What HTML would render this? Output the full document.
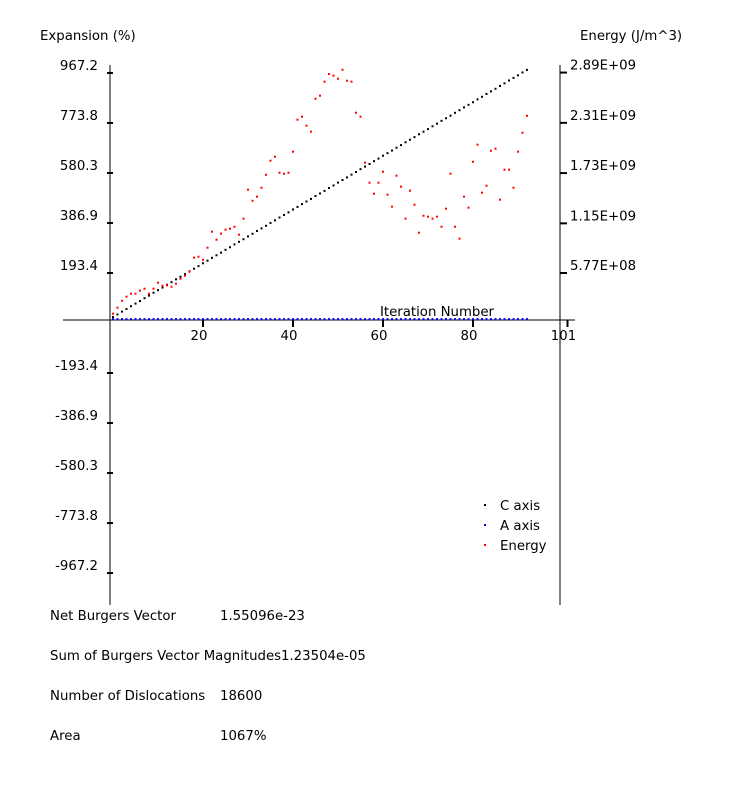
<!DOCTYPE html>
<html><head><meta charset="utf-8"><style>
body{margin:0;background:#fff;}
svg{display:block;font-family:"DejaVu Sans","Liberation Sans",sans-serif;font-size:13.3px;}
</style></head><body>
<svg id="chart" width="750" height="800" viewBox="0 0 750 800" xmlns="http://www.w3.org/2000/svg">
<text x="40" y="40">Expansion (%)</text>
<text x="580" y="40">Energy (J/m^3)</text>
<line x1="110" y1="65" x2="110" y2="605" stroke="#000"/>
<line x1="560" y1="65" x2="560" y2="605" stroke="#000"/>
<line x1="63" y1="320" x2="575" y2="320" stroke="#000"/>
<text x="437" y="316" text-anchor="middle">Iteration Number</text>
<g id="ticks"></g>
<g id="marks"></g>
<g>
<rect x="484" y="504" width="2" height="2" fill="#000"/>
<text x="500" y="510">C axis</text>
<rect x="484" y="524" width="2" height="2" fill="#00f"/>
<text x="500" y="530">A axis</text>
<rect x="484" y="544" width="2" height="2" fill="#f00"/>
<text x="500" y="550">Energy</text>
</g>
<g>
<text x="50" y="620">Net Burgers Vector</text>
<text x="220" y="620">1.55096e-23</text>
<text x="50" y="660">Sum of Burgers Vector Magnitudes</text>
<text x="281" y="660">1.23504e-05</text>
<text x="50" y="700">Number of Dislocations</text>
<text x="220" y="700">18600</text>
<text x="50" y="740">Area</text>
<text x="220" y="740">1067%</text>
</g>
</svg>
<script>
const leftTicks = [967.2, 773.8, 580.3, 386.9, 193.4, -193.4, -386.9, -580.3, -773.8, -967.2];
const leftTickLabels = ["967.2","773.8","580.3","386.9","193.4","-193.4","-386.9","-580.3","-773.8","-967.2"];
const rightTicks = [2.89, 2.31, 1.73, 1.15, 0.577];
const rightTickLabels = ["2.89E+09","2.31E+09","1.73E+09","1.15E+09","5.77E+08"];
const xTicks = [20, 40, 60, 80, 101];
const xTickLabels = ["20","40","60","80","101"];
const cAxis = [23,33,44,54,65,75,85,96,106,117,127,137,148,158,169,179,189,200,210,220,231,241,252,262,272,283,293,304,314,324,335,345,356,366,376,387,397,408,418,428,439,449,460,470,480,491,501,511,522,532,543,553,563,574,584,595,605,615,626,636,647,657,667,678,688,699,709,719,730,740,750,761,771,782,792,802,813,823,834,844,854,865,875,886,896,906,917,927,938,948,958,969,979];
const aAxis = [15,15,15,15,15,15,15,15,15,15,15,15,15,15,15,15,15,15,15,15,15,15,15,15,15,15,15,15,15,15,15,15,15,15,15,15,15,15,15,15,15,15,15,15,15,15,15,15,15,15,15,15,15,15,15,15,15,15,15,15,15,15,15,15,15,15,15,15,15,15,15,15,15,15,15,15,15,15,15,15,15,15,15,15,15,15,15,15,15,15,15,15,15];
const energy = [0.107,0.177,0.257,0.304,0.338,0.338,0.373,0.396,0.338,0.396,0.465,0.430,0.435,0.419,0.454,0.511,0.546,0.592,0.754,0.765,0.730,0.869,1.054,0.961,1.031,1.077,1.088,1.111,1.019,1.204,1.538,1.411,1.458,1.561,1.711,1.873,1.919,1.734,1.723,1.734,1.977,2.346,2.381,2.277,2.208,2.588,2.623,2.785,2.873,2.854,2.819,2.923,2.796,2.785,2.427,2.381,1.850,1.619,1.492,1.619,1.746,1.481,1.342,1.700,1.573,1.204,1.527,1.365,1.042,1.238,1.227,1.204,1.227,1.111,1.319,1.723,1.111,0.973,1.458,1.331,1.861,2.058,1.504,1.584,1.988,2.011,1.423,1.769,1.769,1.561,1.977,2.196,2.392];

const NS = "http://www.w3.org/2000/svg";
function xs(i){ return 113 + 4.5*i; }
function yL(v){ return 323 - v*50/193.4; }
function yR(v){ return 323 - v*50/0.577; }
const tg = document.getElementById('ticks');
const mg = document.getElementById('marks');
function mk(tag, attrs, parent){
  const e = document.createElementNS(NS, tag);
  for (const k in attrs) e.setAttribute(k, attrs[k]);
  parent.appendChild(e);
  return e;
}
leftTicks.forEach((v,k)=>{
  const y = yL(v);
  const l = mk('line',{x1:107,x2:113,y1:y,y2:y,stroke:'#000','stroke-width':2},tg);
  
  
  const t = mk('text',{x:98,y:y-3,'text-anchor':'end'},tg);
  t.textContent = leftTickLabels[k];
  
  
});
rightTicks.forEach((v,k)=>{
  const y = yR(v);
  const l = mk('line',{x1:560,x2:567,y1:y,y2:y,stroke:'#000','stroke-width':2},tg);
  
  
  const t = mk('text',{x:570,y:y-3},tg);
  t.textContent = rightTickLabels[k];
  
  
});
xTicks.forEach((v,k)=>{
  const x = xs(v);
  const l = mk('line',{x1:x,x2:x,y1:320,y2:327,stroke:'#000','stroke-width':2},tg);
  
  
  const t = mk('text',{x:x-4,y:340,'text-anchor':'middle'},tg);
  t.textContent = xTickLabels[k];
  
  
});
aAxis.forEach((v,i)=>{
  const r = mk('rect',{x:xs(i)-1,y:yL(v)-1,width:2,height:2,fill:'#00f'},mg);
  
  
});
cAxis.forEach((v,i)=>{
  const r = mk('rect',{x:xs(i)-1,y:yL(v)-1,width:2,height:2,fill:'#000'},mg);
  
  
});
energy.forEach((v,i)=>{
  const r = mk('rect',{x:xs(i)-1,y:yR(v)-1,width:2,height:2,fill:'#f00'},mg);
  
  
});
</script>
</body></html>
